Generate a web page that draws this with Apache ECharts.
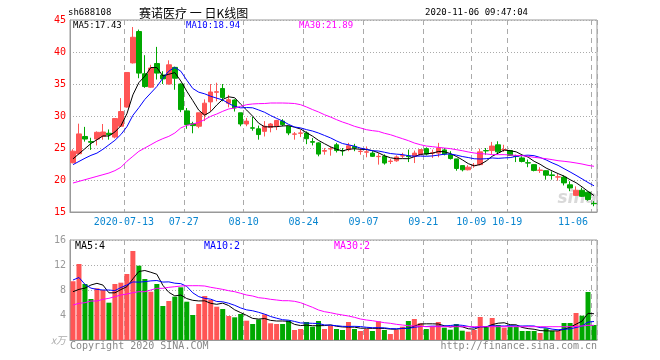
<!DOCTYPE html>
<html><head><meta charset="utf-8">
<script src="https://cdn.jsdelivr.net/npm/echarts@6/dist/echarts.min.js"></script>
<style>html,body{margin:0;padding:0;background:#fff}#c{width:660px;height:360px}</style>
</head><body><div id="c"></div>
<script>
const dates = ['06-30',
'07-01','07-02','07-03','07-06','07-07','07-08','07-09','07-10','07-13','07-14','07-15','07-16','07-17','07-20','07-21','07-22','07-23','07-24','07-27','07-28','07-29','07-30','07-31',
'08-03','08-04','08-05','08-06','08-07','08-10','08-11','08-12','08-13','08-14','08-17','08-18','08-19','08-20','08-21','08-24','08-25','08-26','08-27','08-28','08-31',
'09-01','09-02','09-03','09-04','09-07','09-08','09-09','09-10','09-11','09-14','09-15','09-16','09-17','09-18','09-21','09-22','09-23','09-24','09-25','09-28','09-29','09-30',
'10-09','10-12','10-13','10-14','10-15','10-16','10-19','10-20','10-21','10-22','10-23','10-26','10-27','10-28','10-29','10-30',
'11-02','11-03','11-04','11-05','11-06'];
const tickLabels = ['07-13','07-27','08-10','08-24','09-07','09-21','10-09','10-19','11-06'];
const yearPrefix = '2020-';

const openP = [22.7,24.1,26.8,26.0,26.4,26.8,27.3,26.7,28.4,31.4,
 38.3,43.2,36.6,34.5,38.2,36.4,35.0,37.6,35.0,30.8,
 28.8,28.4,30.2,32.2,33.7,34.3,32.0,32.5,30.5,28.75,
 28.15,28.0,27.6,28.2,28.4,29.2,28.4,27.15,27.3,27.35,
 26.0,25.8,24.5,24.85,25.5,24.6,24.75,25.25,24.45,24.35,
 24.2,23.65,23.7,22.9,23.0,23.75,23.75,23.7,23.95,24.9,
 24.2,24.2,24.7,23.95,23.3,22.25,21.6,22.25,22.4,24.6,
 24.6,25.5,24.7,24.6,23.75,23.45,22.7,22.4,21.5,21.45,
 20.8,20.45,20.45,19.25,17.6,18.4,18.1,16.35];
const closeP = [24.5,27.2,26.4,25.9,27.45,27.5,27.1,29.6,30.7,36.8,
 42.3,36.7,34.6,37.5,36.7,35.8,38.0,35.9,31.0,28.65,
 28.5,30.5,32.0,33.75,33.8,32.9,32.55,31.25,28.75,29.2,
 28.1,27.1,28.4,28.75,29.3,28.65,27.35,27.2,27.35,26.45,
 25.9,24.05,24.6,24.9,24.6,24.55,25.35,25.0,24.5,24.4,
 23.7,23.7,22.65,22.95,23.6,23.8,23.65,24.2,24.75,24.05,
 24.25,25.0,24.05,23.35,21.8,21.6,22.0,22.3,24.4,24.55,
 25.3,24.4,24.75,23.85,23.7,22.9,22.65,21.5,21.55,20.75,
 20.7,20.5,19.55,18.75,18.4,17.45,16.95,16.3];
const lowP = [22.6,24.0,26.0,24.7,25.4,26.3,26.3,26.5,28.3,31.3,
 38.2,35.9,34.4,34.4,35.7,35.0,34.9,34.1,30.6,28.0,
 27.3,28.1,29.2,30.7,32.3,32.3,31.35,30.7,28.4,28.4,
 27.7,26.3,26.8,27.45,27.8,28.4,27.0,26.3,26.7,25.6,
 25.4,23.7,23.95,23.8,24.3,23.8,24.5,24.5,23.95,23.55,
 23.6,22.4,22.4,22.5,22.85,23.45,22.8,22.65,23.9,23.85,
 23.45,23.55,23.85,23.2,21.45,21.35,21.5,21.9,22.3,23.95,
 24.05,24.1,24.4,23.8,22.8,22.75,22.0,21.35,21.1,20.05,
 20.05,19.9,19.15,18.25,17.5,17.35,16.75,15.9];
const highP = [24.8,28.8,28.3,26.6,27.6,28.75,27.9,29.6,32.8,36.8,
 43.9,43.5,39.5,38.0,40.8,37.0,38.7,37.7,35.1,31.25,
 29.1,30.5,32.6,35.0,35.2,35.0,33.3,32.6,30.5,29.7,
 29.85,28.5,29.2,28.9,29.4,29.5,28.4,27.5,27.85,27.6,
 26.55,25.9,25.0,25.25,25.8,25.0,25.8,25.65,25.0,25.25,
 24.5,24.2,24.0,23.3,23.85,24.25,24.75,24.6,24.8,25.1,
 24.75,25.8,25.0,24.5,23.3,22.3,22.3,22.65,24.9,25.0,
 25.95,26.05,25.5,24.7,23.95,23.7,23.2,22.5,22.0,21.5,
 21.35,20.95,20.7,19.8,19.0,18.8,18.2,16.7];

const ma5 = [23.3,24.1,24.9,25.7,26.29,26.89,26.87,27.51,28.47,30.34,
 33.3,35.22,36.22,37.58,37.56,36.26,36.52,36.78,35.48,33.87,
 32.41,30.91,30.13,30.68,31.71,32.59,33.0,32.85,31.85,30.93,
 29.97,28.88,28.31,28.31,28.33,28.44,28.49,28.25,27.97,27.4,
 26.85,26.19,25.67,25.18,24.81,24.54,24.8,24.88,24.8,24.76,
 24.59,24.26,23.79,23.48,23.32,23.34,23.33,23.64,24.0,24.09,
 24.18,24.45,24.42,24.14,23.69,23.16,22.56,22.21,22.42,22.97,
 23.71,24.19,24.68,24.57,24.4,23.92,23.57,22.92,22.46,21.87,
 21.43,21.0,20.61,20.05,19.58,18.93,18.22,17.57];
const ma10 = [22.4,22.9,23.4,23.85,24.2,24.8,25.5,26.2,27.1,28.32,
 30.1,31.3,32.6,33.6,34.6,35.9,37.0,37.6,37.0,35.6,
 34.3,33.72,33.46,33.08,32.79,32.5,31.96,31.49,31.27,31.32,
 31.28,30.94,30.58,30.08,29.63,29.21,28.69,28.28,28.14,27.87,
 27.65,27.34,26.96,26.58,26.11,25.7,25.5,25.28,24.99,24.79,
 24.57,24.53,24.34,24.14,24.04,23.97,23.8,23.72,23.74,23.71,
 23.76,23.89,24.03,24.07,23.89,23.67,23.51,23.32,23.28,23.33,
 23.44,23.38,23.45,23.5,23.69,23.82,23.88,23.8,23.52,23.14,
 22.68,22.29,21.77,21.26,20.73,20.18,19.61,19.09];
const ma30 = [19.53,19.79,20.05,20.31,20.57,20.83,21.09,21.46,21.98,22.92,
 23.7,24.48,25.0,25.52,26.04,26.46,26.82,27.34,28.13,28.54,
 28.75,29.0,29.43,29.95,30.31,30.73,31.1,31.25,31.51,31.77,
 31.88,31.93,31.95,32.03,32.03,32.03,32.0,31.95,31.77,31.41,
 31.0,30.63,30.2,29.84,29.43,29.06,28.75,28.39,28.13,27.86,
 27.71,27.6,27.3,27.08,26.77,26.46,26.15,25.78,25.52,25.31,
 25.21,25.1,25.0,24.9,24.74,24.58,24.38,24.22,24.11,24.06,
 23.96,23.96,23.96,23.9,23.85,23.8,23.7,23.54,23.44,23.33,
 23.18,23.02,22.92,22.81,22.66,22.5,22.29,22.14];

const vol = [9.4,12.16,8.96,6.56,8.27,8.0,5.97,8.96,9.17,10.56,
 14.24,11.89,9.76,7.73,8.96,5.44,6.24,6.93,8.43,6.13,
 4.0,5.76,7.04,6.4,5.33,4.96,3.84,3.63,4.16,3.09,
 2.56,3.3,4.1,2.67,2.56,2.56,3.09,1.6,1.76,2.88,
 2.13,3.04,1.76,2.29,1.76,1.6,2.88,1.76,1.44,1.76,
 1.44,2.99,1.6,0.96,1.6,2.13,3.04,3.36,2.67,1.76,
 2.13,2.88,1.97,1.65,2.56,1.49,1.33,1.6,3.68,2.24,
 3.52,2.4,1.97,2.13,2.13,1.44,1.44,1.44,1.12,1.87,
 1.44,1.44,2.72,2.72,4.32,3.89,7.68,2.4];
const volMa5 = [7.73,8.1,8.3,8.8,9.07,8.79,7.55,7.55,8.07,8.53,
 9.78,10.96,11.12,10.84,10.52,8.76,7.63,7.06,7.2,6.63,
 6.35,6.25,6.27,5.87,5.71,5.9,5.51,4.83,4.38,3.94,
 3.46,3.35,3.44,3.14,3.04,3.04,3.0,2.5,2.31,2.38,
 2.29,2.28,2.31,2.42,2.2,2.09,2.06,2.06,1.89,1.89,
 1.86,1.88,1.85,1.75,1.72,1.86,1.87,2.22,2.56,2.59,
 2.59,2.56,2.28,2.08,2.24,2.11,1.8,1.73,2.13,2.07,
 2.47,2.69,2.76,2.45,2.43,2.01,1.82,1.72,1.51,1.46,
 1.46,1.46,1.72,2.04,2.53,3.02,4.27,4.2];
const volMa10 = [9.6,10.0,8.9,8.3,8.1,8.0,8.0,7.9,8.4,8.8,
 9.29,9.26,9.34,9.46,9.52,9.27,9.3,9.09,9.02,8.58,
 7.55,6.94,6.67,6.53,6.17,6.12,5.88,5.55,5.13,4.82,
 4.68,4.43,4.14,3.76,3.49,3.25,3.17,2.97,2.73,2.71,
 2.67,2.64,2.41,2.37,2.29,2.19,2.17,2.19,2.15,2.04,
 1.97,1.97,1.95,1.82,1.8,1.86,1.87,2.03,2.16,2.16,
 2.22,2.21,2.25,2.32,2.42,2.35,2.18,2.0,2.11,2.15,
 2.29,2.24,2.24,2.29,2.25,2.24,2.26,2.24,1.98,1.95,
 1.74,1.64,1.72,1.78,2.0,2.24,2.86,2.96];
const volMa30 = [5.6,5.87,5.97,6.24,6.24,6.51,6.67,6.93,7.2,7.36,
 7.57,7.73,7.73,8.0,8.27,8.27,8.43,8.53,8.64,8.69,
 8.69,8.69,8.64,8.43,8.27,8.1,7.89,7.73,7.47,7.2,
 7.04,6.77,6.67,6.51,6.4,6.29,6.29,6.19,5.97,5.6,
 5.23,4.8,4.53,4.37,4.16,4.0,3.84,3.63,3.36,3.2,
 3.09,2.93,2.77,2.67,2.51,2.4,2.29,2.24,2.19,2.13,
 2.13,2.13,2.13,2.13,2.13,2.13,2.13,2.13,2.13,2.13,
 2.13,2.13,2.13,2.13,2.13,2.13,2.13,2.13,2.13,2.13,
 2.13,2.13,2.13,2.13,2.19,2.24,2.35,2.35];

const priceTicks = [15, 45, 5];
const volTicks = [0, 16, 4];

const UP = '#ff5555', DOWN = '#00a800';
const MONO = '"DejaVu Sans Mono", "Liberation Mono", monospace';
const isTick = (i, v) => tickLabels.indexOf(v) >= 0;

const chart = echarts.init(document.getElementById('c'), null, {renderer: 'canvas'});
const candleData = dates.map((d, i) => [openP[i], closeP[i], lowP[i], highP[i]]);
const volData = vol.map((v, i) => ({value: v, itemStyle: {color: closeP[i] >= openP[i] ? UP : DOWN}}));
const vSplit = {show: true, interval: isTick, lineStyle: {color: '#aaa', type: [5, 4], width: 1}};
const hSplit = {show: true, lineStyle: {color: '#aaa', type: [1, 2], width: 1}};

function txt(text, x, y, color, size, align, family) {
  return {type: 'text', z: 100, style: {text: text, x: x, y: y, fill: color,
    font: size + 'px ' + (family || MONO), textAlign: align || 'left', textVerticalAlign: 'middle'}};
}

chart.setOption({
  animation: false,
  backgroundColor: '#fff',
  grid: [
    {left: 70, top: 20, width: 527, height: 192, show: true, borderColor: '#999', borderWidth: 1, backgroundColor: 'transparent'},
    {left: 70, top: 240, width: 527, height: 100, show: true, borderColor: '#999', borderWidth: 1, backgroundColor: 'transparent'}
  ],
  xAxis: [
    {type: 'category', gridIndex: 0, data: dates, boundaryGap: true,
     axisLine: {show: true, lineStyle: {color: '#999'}}, axisTick: {show: false},
     axisLabel: {interval: isTick, color: '#0a86d0', fontFamily: MONO, fontSize: 10, margin: 5,
       padding: [0, 6, 0, 0], alignMaxLabel: 'right', hideOverlap: false,
       formatter: v => v === tickLabels[0] ? yearPrefix + v : v},
     splitLine: vSplit},
    {type: 'category', gridIndex: 1, data: dates, boundaryGap: true,
     axisLine: {show: true, lineStyle: {color: '#999'}}, axisTick: {show: false},
     axisLabel: {show: false}, splitLine: vSplit}
  ],
  yAxis: [
    {type: 'value', gridIndex: 0, min: priceTicks[0], max: priceTicks[1], interval: priceTicks[2],
     axisLine: {show: true, lineStyle: {color: '#999'}}, axisTick: {show: false},
     axisLabel: {color: '#ff0000', fontFamily: MONO, fontSize: 10, margin: 4},
     splitLine: hSplit},
    {type: 'value', gridIndex: 1, min: volTicks[0], max: volTicks[1], interval: volTicks[2],
     axisLine: {show: true, lineStyle: {color: '#999'}}, axisTick: {show: false},
     axisLabel: {color: '#999', fontFamily: MONO, fontSize: 10, margin: 4,
       formatter: v => v === 0 ? '{u|x万}' : String(v),
       rich: {u: {color: '#aaa', fontSize: 10, fontFamily: '"Noto Sans CJK SC", sans-serif', fontStyle: 'italic'}}},
     splitLine: hSplit}
  ],
  series: [
    {type: 'candlestick', xAxisIndex: 0, yAxisIndex: 0, data: candleData, barWidth: 5,
     itemStyle: {color: UP, color0: DOWN, borderColor: UP, borderColor0: DOWN, borderWidth: 1}},
    {type: 'line', xAxisIndex: 0, yAxisIndex: 0, data: ma5, symbol: 'none', lineStyle: {color: '#000', width: 1}, z: 5},
    {type: 'line', xAxisIndex: 0, yAxisIndex: 0, data: ma10, symbol: 'none', lineStyle: {color: '#0000ff', width: 1}, z: 5},
    {type: 'line', xAxisIndex: 0, yAxisIndex: 0, data: ma30, symbol: 'none', lineStyle: {color: '#ff00ff', width: 1}, z: 5},
    {type: 'bar', xAxisIndex: 1, yAxisIndex: 1, data: volData, barWidth: 5},
    {type: 'line', xAxisIndex: 1, yAxisIndex: 1, data: volMa5, symbol: 'none', lineStyle: {color: '#000', width: 1}, z: 5},
    {type: 'line', xAxisIndex: 1, yAxisIndex: 1, data: volMa10, symbol: 'none', lineStyle: {color: '#0000ff', width: 1}, z: 5},
    {type: 'line', xAxisIndex: 1, yAxisIndex: 1, data: volMa30, symbol: 'none', lineStyle: {color: '#ff00ff', width: 1}, z: 5}
  ],
  graphic: [
    {type: 'text', z: 1, style: {text: 'sina', x: 597, y: 199, fill: 'rgba(170,170,170,0.45)',
      font: 'italic bold 17px "DejaVu Sans", sans-serif', textAlign: 'right', textVerticalAlign: 'middle'}},
    txt('sh688108', 68, 13, '#000', 9),
    txt('赛诺医疗 一 日K线图', 139, 13, '#000', 12, 'left', '"Noto Sans CJK SC", sans-serif'),
    txt('2020-11-06 09:47:04', 528, 13, '#000', 9, 'right'),
    txt('MA5:17.43', 73, 26, '#000', 9),
    txt('MA10:18.94', 186, 26, '#0000ff', 9),
    txt('MA30:21.89', 299, 26, '#ff00ff', 9),
    txt('MA5:4', 75, 246, '#000', 10),
    txt('MA10:2', 204, 246, '#0000ff', 10),
    txt('MA30:2', 334, 246, '#ff00ff', 10),
    txt('Copyright 2020 SINA.COM', 70, 346, '#888', 10),
    txt('http://finance.sina.com.cn', 597, 346, '#888', 10, 'right')
  ]
});
</script>
</body></html>
